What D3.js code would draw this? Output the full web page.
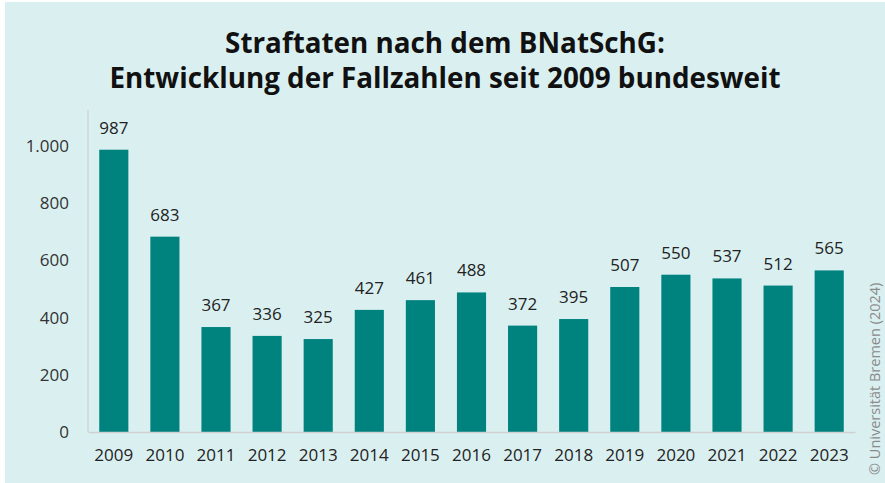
<!DOCTYPE html>
<html>
<head>
<meta charset="utf-8">
<script src="https://cdn.jsdelivr.net/npm/d3@7"></script>
<style>
  body { margin: 0; background: #fff; }
  svg { display: block; font-family: "Open Sans", sans-serif; }
</style>
</head>
<body>
<div id="chart"></div>
<script>
// data
var years = ["2009", "2010", "2011", "2012", "2013", "2014", "2015", "2016", "2017", "2018", "2019", "2020", "2021", "2022", "2023"];
var cases = [987, 683, 367, 336, 325, 427, 461, 488, 372, 395, 507, 550, 537, 512, 565];
var yTicks = [0, 200, 400, 600, 800, 1000];
var titleLines = ["Straftaten nach dem BNatSchG:", "Entwicklung der Fallzahlen seit 2009 bundesweit"];
var credit = "© Universität Bremen (2024)";

var W = 885, H = 483;
var svg = d3.select("#chart").append("svg").attr("width", W).attr("height", H);

// background panel
svg.append("rect").attr("x", 5).attr("y", 2).attr("width", W - 5).attr("height", H - 2).attr("fill", "#daf0f0");

var x = d3.scaleBand().domain(years).range([88, 855]).paddingInner(0.43).paddingOuter(0.22);
var y = d3.scaleLinear().domain([0, 1000]).range([432, 146]);

// title
svg.selectAll("text.title").data(titleLines).enter().append("text")
    .attr("class", "title")
    .attr("x", 445).attr("y", function (d, i) { return 53 + i * 35; })
    .attr("text-anchor", "middle")
    .attr("font-size", 27.8).attr("font-weight", "bold").attr("fill", "#111")
    .text(function (d) { return d; });

// y axis
var fmt = function (v) { return v >= 1000 ? d3.format(",")(v).replace(",", ".") : String(v); };
var yAxis = svg.append("g").attr("transform", "translate(88,0)")
    .call(d3.axisLeft(y).tickValues(yTicks).tickSize(0).tickPadding(19).tickFormat(fmt));
yAxis.select(".domain").remove();
yAxis.selectAll("text").attr("font-size", 17).attr("fill", "#333").attr("font-family", "Open Sans, sans-serif");

svg.append("line").attr("x1", 88).attr("x2", 88).attr("y1", 110).attr("y2", 432)
    .attr("stroke", "#d0d0d0").attr("stroke-width", 1.2);

// bars
var rows = years.map(function (yr, i) { return { year: yr, value: cases[i] }; });
svg.selectAll("rect.bar").data(rows).enter().append("rect")
    .attr("class", "bar")
    .attr("x", function (d) { return x(d.year); })
    .attr("width", x.bandwidth())
    .attr("y", function (d) { return y(d.value); })
    .attr("height", function (d) { return y(0) - y(d.value); })
    .attr("fill", "#00827f");

// value labels
svg.selectAll("text.val").data(rows).enter().append("text")
    .attr("class", "val")
    .attr("x", function (d) { return x(d.year) + x.bandwidth() / 2; })
    .attr("y", function (d) { return y(d.value) - 16; })
    .attr("text-anchor", "middle")
    .attr("font-size", 17).attr("fill", "#222")
    .text(function (d) { return d.value; });

// baseline + x axis
var xAxis = svg.append("g").attr("transform", "translate(0,432)")
    .call(d3.axisBottom(x).tickSize(0).tickPadding(17));
xAxis.select(".domain").attr("stroke", "#d0d0d0").attr("stroke-width", 1.5);
xAxis.selectAll("text").attr("font-size", 17).attr("fill", "#222").attr("font-family", "Open Sans, sans-serif");

// credit
svg.append("text")
    .attr("transform", "translate(880,475) rotate(-90)")
    .attr("font-size", 14.5).attr("fill", "#8a8a8a")
    .text(credit);
</script>
</body>
</html>
